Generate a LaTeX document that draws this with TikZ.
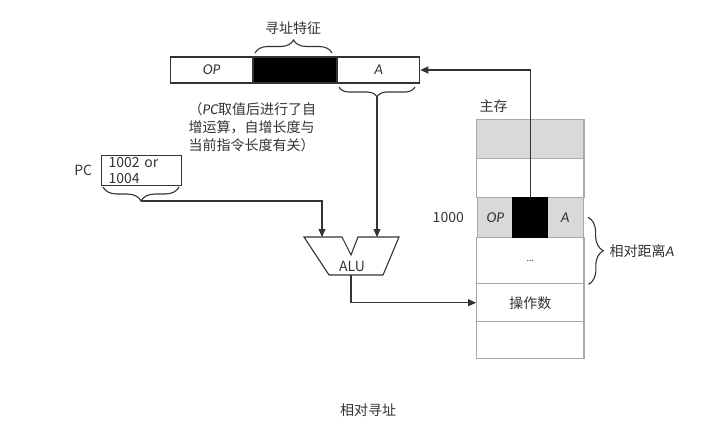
\documentclass[tikz,border=0pt]{standalone}
\usepackage{fontspec}
\setmainfont{Noto Sans CJK SC}
\newfontfamily\itfont{Carlito}
\usetikzlibrary{arrows.meta}
\usetikzlibrary{positioning}
\usetikzlibrary{decorations.pathreplacing}
\definecolor{ink}{HTML}{333333}
\definecolor{memline}{HTML}{A8A8A8}
\definecolor{memfill}{HTML}{D9D9D9}
\newcommand{\itlab}[1]{{\itfont\itshape\fontsize{15}{18}\selectfont #1}}

\begin{document}
\begin{tikzpicture}[x=1pt, y=-1pt, line width=1.1pt, text=ink,
  font=\fontsize{14}{18}\selectfont,
  cell/.style={draw=ink, minimum height=26pt, inner sep=0pt, anchor=west},
  mem/.style={draw=memline, minimum width=107.3pt, inner sep=0pt},
  brc/.style={draw=ink, decorate, decoration={brace, amplitude=#1}},
  arr/.style={draw=ink, -{Triangle[length=8pt, width=7pt]}}]
\useasboundingbox (0,0) rectangle (715,444);

\node[cell, minimum width=82pt] (iop) at (170,70) {\itlab{OP}};
\node[cell, minimum width=83pt, fill=black] (ifeat) at (iop.east) {};
\node[cell, minimum width=82pt] (ia) at (ifeat.east) {\itlab{A}};
\draw[brc=13pt] (255,53) -- (332,53);
\node (feat) at (293,28) {寻址特征};
\draw[brc=10pt] (415,87) -- (339,87);
\coordinate (atip) at (377,97);
\node[anchor=west, inner sep=0pt, align=left] (note) at (188,127)
  {（\itlab{PC}取值后进行了自\\增运算，自增长度与\\当前指令长度有关）};

\node[draw=ink, anchor=north west, minimum height=30pt, text width=66pt,
  inner xsep=7pt, inner ysep=0pt, align=left, font=\fontsize{14}{16}\selectfont]
  (pc) at (101,155) {1002 or\\1004};
\node[left=5pt of pc, font=\fontsize{14}{16}\selectfont] (pcname) {PC};
\draw[brc=14pt] (179,187) -- (103,187);
\coordinate (pctip) at (141,201);

\draw[ink] (304,237) -- (342,237) -- (351,255) -- (358,237) -- (399,237)
  -- (383,275) -- (329,275) -- cycle;
\coordinate (alua) at (322,237);
\coordinate (alub) at (377,237);
\coordinate (aluout) at (351,275);
\node[font=\fontsize{14}{16}\selectfont] (alu) at (352,266) {ALU};

\foreach \nm/\y/\h/\fc in {mtop/119.3/39/memfill, mfree/158.3/38.4/white,
  mgap/236.7/46.6/white, mopnd/283.3/37.7/white, mlast/321/37.3/white}
  \node[mem, fill=\fc, minimum height=\h pt, anchor=north] (\nm) at (530.3,\y) {};
\node[mem, fill=memfill, minimum width=36.3pt, minimum height=40pt, anchor=north west]
  (mop) at (476.7,196.7) {\itlab{OP}};
\node[mem, fill=memfill, minimum width=36.3pt, minimum height=40pt, anchor=north east]
  (ma) at (584,196.7) {\itlab{A}};
\node[draw=black, fill=black, inner sep=0pt, minimum width=34.7pt, minimum height=40pt,
  anchor=north] (mfeat) at (530.3,196.7) {};
\node at (mgap) {\fontsize{9}{10}\selectfont ...};
\node at (mopnd) {操作数};
\node (mainmem) at (493.5,106) {主存};
\node[left=9pt of mop] (addr) {1000};
\draw[brc=15pt] ([xshift=4pt]ma.east) -- ([xshift=4pt]mgap.south east);
\node[anchor=west, inner sep=0pt] (dist) at (609,251) {相对距离\itlab{A}};

\draw[arr] (mfeat.north) |- (ia.east);
\draw[arr] (atip) -- (alub);
\draw[arr] (pctip) -| (alua);
\draw[arr] (aluout) |- (mopnd.west);

\node (cap) at (368,410) {相对寻址};
\end{tikzpicture}
\end{document}
